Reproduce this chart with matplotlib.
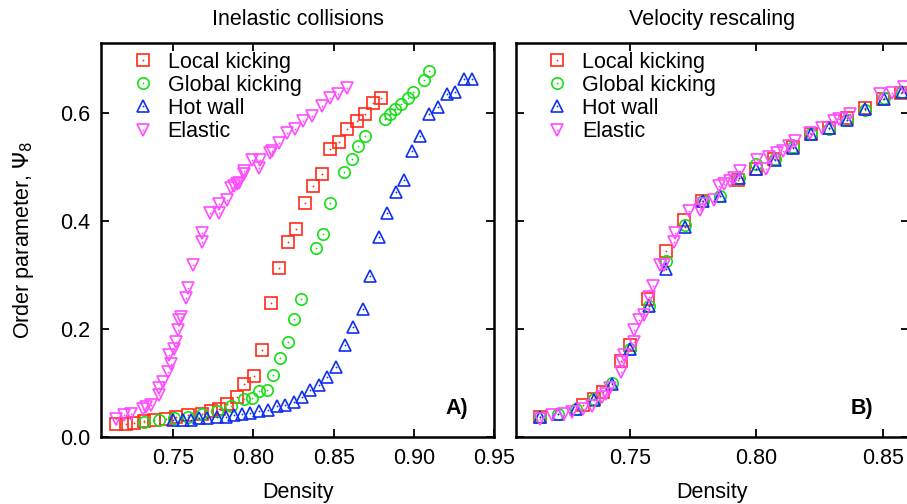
import matplotlib
matplotlib.use("Agg")
import matplotlib.pyplot as plt
from matplotlib.lines import Line2D

plt.rcParams['font.family'] = ['Liberation Sans', 'DejaVu Sans']
plt.rcParams['mathtext.fontset'] = 'dejavusans'

# ---- panel A: inelastic collisions ----
a_local_x = [0.7145, 0.7207, 0.7258, 0.7320, 0.7382, 0.7455, 0.7517, 0.7589, 0.7682, 0.7734,
             0.7785, 0.7837, 0.7899, 0.7944, 0.8002, 0.8054, 0.8110, 0.8161, 0.8215, 0.8267,
             0.8322, 0.8370, 0.8426, 0.8477, 0.8533, 0.8584, 0.8643, 0.8694, 0.8746, 0.8798]
a_local_y = [0.025, 0.025, 0.026, 0.029, 0.031, 0.034, 0.037, 0.040, 0.043, 0.049,
             0.052, 0.062, 0.074, 0.098, 0.113, 0.162, 0.248, 0.314, 0.361, 0.386,
             0.433, 0.465, 0.488, 0.533, 0.547, 0.571, 0.586, 0.598, 0.619, 0.629]

a_global_x = [0.7320, 0.7413, 0.7506, 0.7589, 0.7682, 0.7775, 0.7858, 0.7944, 0.7992, 0.8033,
              0.8085, 0.8120, 0.8163, 0.8215, 0.8256, 0.8297, 0.8390, 0.8436, 0.8477, 0.8566,
              0.8612, 0.8653, 0.8694, 0.8818, 0.8849, 0.8880, 0.8921, 0.8962, 0.8993, 0.9066,
              0.9097]
a_global_y = [0.028, 0.031, 0.036, 0.038, 0.043, 0.049, 0.057, 0.071, 0.072, 0.085,
              0.087, 0.114, 0.147, 0.176, 0.219, 0.256, 0.350, 0.376, 0.434, 0.491,
              0.516, 0.539, 0.557, 0.589, 0.598, 0.607, 0.617, 0.629, 0.640, 0.661,
              0.678]

a_hot_x = [0.7496, 0.7558, 0.7610, 0.7661, 0.7713, 0.7771, 0.7827, 0.7878, 0.7930, 0.7981,
           0.8037, 0.8091, 0.8147, 0.8198, 0.8250, 0.8302, 0.8353, 0.8409, 0.8460, 0.8512,
           0.8570, 0.8621, 0.8680, 0.8725, 0.8783, 0.8832, 0.8886, 0.8936, 0.8990, 0.9041,
           0.9097, 0.9148, 0.9206, 0.9258, 0.9314, 0.9365]
a_hot_y = [0.031, 0.032, 0.032, 0.035, 0.036, 0.037, 0.038, 0.040, 0.043, 0.044,
           0.048, 0.050, 0.057, 0.060, 0.065, 0.074, 0.087, 0.096, 0.111, 0.130,
           0.170, 0.204, 0.237, 0.299, 0.371, 0.416, 0.454, 0.477, 0.530, 0.557,
           0.598, 0.611, 0.635, 0.640, 0.663, 0.663]

a_elastic_x = [0.7145, 0.7196, 0.7238, 0.7310, 0.7331, 0.7362, 0.7413, 0.7413, 0.7434, 0.7465,
               0.7486, 0.7475, 0.7506, 0.7517, 0.7527, 0.7537, 0.7548, 0.7579, 0.7589, 0.7626,
               0.7682, 0.7682, 0.7729, 0.7785, 0.7785, 0.7837, 0.7858, 0.7878, 0.7899, 0.7909,
               0.7940, 0.7940, 0.7992, 0.8033, 0.8043, 0.8105, 0.8116, 0.8157, 0.8209, 0.8260,
               0.8312, 0.8364, 0.8426, 0.8477, 0.8529, 0.8581]
a_elastic_y = [0.034, 0.040, 0.043, 0.052, 0.055, 0.059, 0.077, 0.090, 0.102, 0.121,
               0.136, 0.152, 0.164, 0.176, 0.198, 0.217, 0.223, 0.257, 0.276, 0.319,
               0.362, 0.378, 0.415, 0.415, 0.431, 0.440, 0.462, 0.465, 0.468, 0.471,
               0.487, 0.493, 0.514, 0.499, 0.514, 0.527, 0.530, 0.545, 0.564, 0.570,
               0.586, 0.595, 0.614, 0.629, 0.635, 0.646]

# ---- panel B: velocity rescaling ----
b_local_x = [0.7145, 0.7318, 0.7358, 0.7393, 0.7464, 0.7503, 0.7573, 0.7644, 0.7716, 0.7786,
             0.7928, 0.8000, 0.8071, 0.8143, 0.8216, 0.8288, 0.8358, 0.8430, 0.8500, 0.8572]
b_local_y = [0.037, 0.060, 0.071, 0.083, 0.141, 0.171, 0.256, 0.345, 0.403, 0.437,
             0.476, 0.496, 0.516, 0.538, 0.561, 0.573, 0.592, 0.609, 0.626, 0.638]

b_common_x = [0.7145, 0.7216, 0.7290, 0.7361, 0.7432, 0.7503, 0.7575, 0.7645, 0.7717, 0.7788,
              0.7858, 0.7930, 0.8000, 0.8072, 0.8143, 0.8216, 0.8287, 0.8358, 0.8430, 0.8503,
              0.8575]
b_global_y = [0.037, 0.043, 0.052, 0.071, 0.100, 0.164, 0.243, 0.327, 0.392, 0.437,
              0.446, 0.480, 0.505, 0.516, 0.538, 0.561, 0.571, 0.588, 0.606, 0.629,
              0.640]
b_hot_y = [0.037, 0.042, 0.052, 0.069, 0.099, 0.164, 0.243, 0.312, 0.390, 0.438,
           0.446, 0.480, 0.497, 0.513, 0.536, 0.561, 0.572, 0.588, 0.607, 0.627,
           0.640]

b_elastic_x = [0.7145, 0.7194, 0.7240, 0.7273, 0.7318, 0.7352, 0.7391, 0.7408, 0.7424, 0.7466,
               0.7470, 0.7476, 0.7516, 0.7516, 0.7536, 0.7555, 0.7575, 0.7591, 0.7618, 0.7634,
               0.7674, 0.7680, 0.7733, 0.7779, 0.7786, 0.7832, 0.7851, 0.7871, 0.7897, 0.7910,
               0.7937, 0.8003, 0.8036, 0.8049, 0.8082, 0.8105, 0.8128, 0.8154, 0.8213, 0.8259,
               0.8305, 0.8325, 0.8371, 0.8487, 0.8536, 0.8582]
b_elastic_y = [0.034, 0.040, 0.043, 0.046, 0.052, 0.057, 0.074, 0.080, 0.090, 0.121,
               0.139, 0.152, 0.176, 0.198, 0.217, 0.226, 0.260, 0.279, 0.319, 0.319,
               0.362, 0.378, 0.418, 0.421, 0.431, 0.440, 0.465, 0.468, 0.474, 0.480,
               0.493, 0.514, 0.497, 0.518, 0.527, 0.530, 0.539, 0.548, 0.564, 0.573,
               0.586, 0.590, 0.598, 0.635, 0.638, 0.648]

labels = ["Local kicking", "Global kicking", "Hot wall", "Elastic"]
colors = ["#ff2a18", "#14e014", "#1030f0", "#ff4cff"]
markers = ["s", "o", "^", "v"]
msize = [8.2, 8.2, 8.4, 8.4]
FS = 15.5

fig = plt.figure(figsize=(9.07, 5.04), dpi=100)
ax_a = fig.add_axes([0.1114, 0.1329, 0.4333, 0.7817])
ax_b = fig.add_axes([0.5684, 0.1329, 0.4333, 0.7817])


def draw(ax, series):
    handles = []
    for (xs, ys), lab, c, m, ms in zip(series, labels, colors, markers, msize):
        ax.plot(xs, ys, ls="none", marker=m, ms=ms, mfc="none", mec=c, mew=1.2)
        ax.plot(xs, ys, ls="none", marker="o", ms=1.3, mfc=c, mec="none")
        h1 = Line2D([], [], ls="none", marker=m, ms=ms, mfc="none", mec=c, mew=1.2)
        h2 = Line2D([], [], ls="none", marker="o", ms=1.3, mfc=c, mec="none")
        handles.append((h1, h2))
    ax.legend(handles, labels, loc="upper left", bbox_to_anchor=(0.06, 1.0),
              frameon=False, fontsize=FS, handlelength=0.9, handletextpad=0.7,
              labelspacing=0.1, borderaxespad=0.2, borderpad=0.2)
    ax.tick_params(direction="in", top=True, right=True, length=6, width=1.3,
                   labelsize=FS)
    ax.tick_params(axis="x", pad=8)
    ax.tick_params(axis="y", pad=8)
    for s in ax.spines.values():
        s.set_linewidth(1.8)
    ax.set_ylim(0, 0.73)
    ax.set_yticks([0.0, 0.2, 0.4, 0.6])
    ax.set_xlabel("Density", fontsize=FS, labelpad=9)


draw(ax_a, [(a_local_x, a_local_y), (a_global_x, a_global_y),
            (a_hot_x, a_hot_y), (a_elastic_x, a_elastic_y)])
draw(ax_b, [(b_local_x, b_local_y), (b_common_x, b_global_y),
            (b_common_x, b_hot_y), (b_elastic_x, b_elastic_y)])

ax_a.set_xlim(0.705, 0.95)
ax_a.set_xticks([0.75, 0.80, 0.85, 0.90, 0.95])
ax_a.set_yticklabels(["0.0", "0.2", "0.4", "0.6"])
ax_a.set_ylabel(r"Order parameter, $\Psi_8$", fontsize=FS, labelpad=17)
ax_a.set_title("Inelastic collisions", fontsize=FS, pad=13)
ax_a.text(0.935, 0.072, "A)", transform=ax_a.transAxes, ha="right", va="center",
          fontsize=FS, fontweight="bold")

ax_b.set_xlim(0.705, 0.86)
ax_b.set_xticks([0.75, 0.80, 0.85])
ax_b.set_yticklabels([])
ax_b.set_title("Velocity rescaling", fontsize=FS, pad=13)
ax_b.text(0.91, 0.072, "B)", transform=ax_b.transAxes, ha="right", va="center",
          fontsize=FS, fontweight="bold")

fig.savefig("out.png", dpi=100)
